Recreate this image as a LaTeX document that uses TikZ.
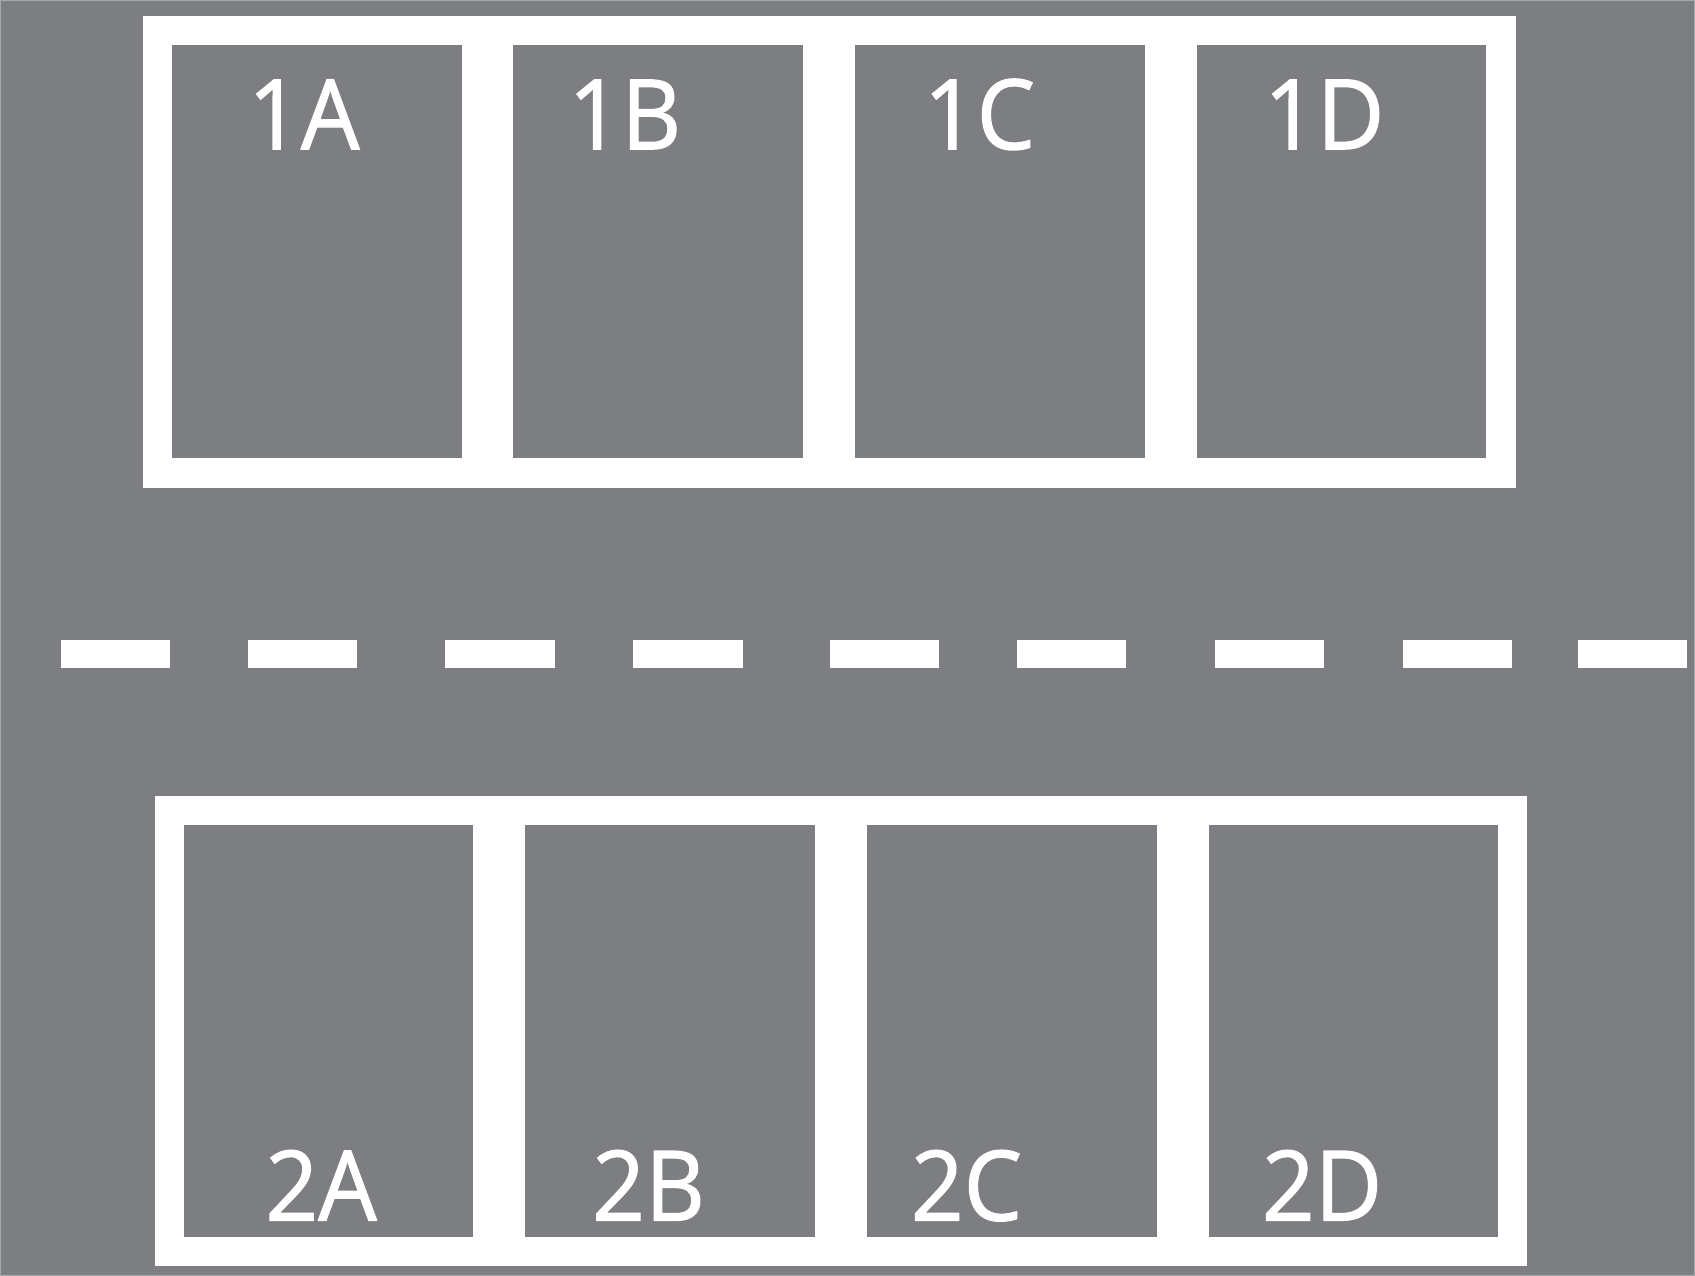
\documentclass[tikz,border=0pt]{standalone}
\usepackage{fontspec}
\setmainfont{Open Sans}[FakeStretch=0.95, FakeBold=1.2]
\definecolor{asphalt}{HTML}{7D7E82}
\definecolor{rim}{HTML}{A6A7AA}
\tikzset{
	bay label/.style={text=white, font=\fontsize{45}{45}\selectfont, anchor=base, inner sep=0pt},
}
\begin{document}
\begin{tikzpicture}[x=0.5pt, y=-0.5pt]
		\useasboundingbox (0,0) rectangle (1568,1180);
		\fill[asphalt, draw=rim, line width=1pt] (0,0) rectangle (1568,1180);

		% top row of bays
		\fill[white] (132,15) rectangle (1402,451);
		\foreach \x in {159,475,791,1107}
			\fill[asphalt] (\x,42) rectangle ++(268,382);

		% bottom row of bays
		\fill[white] (143,736) rectangle (1413,1171);
		\foreach \x in {170,486,802,1118}
			\fill[asphalt] (\x,763) rectangle ++(268,381);

		% centre line
		\foreach \x in {56,229,412,586,768,941,1124,1298,1460}
			\fill[white] (\x,592) rectangle ++(101,26);

		\node[bay label] (bay1a) at (281,138) {1A};
		\node[bay label] (bay1b) at (578,138) {1B};
		\node[bay label] (bay1c) at (906,138) {1C};
		\node[bay label] (bay1d) at (1225,138) {1D};
		\node[bay label] (bay2a) at (297,1129) {2A};
		\node[bay label] (bay2b) at (600,1129) {2B};
		\node[bay label] (bay2c) at (894,1129) {2C};
		\node[bay label] (bay2d) at (1223,1129) {2D};
	\end{tikzpicture}
\end{document}
